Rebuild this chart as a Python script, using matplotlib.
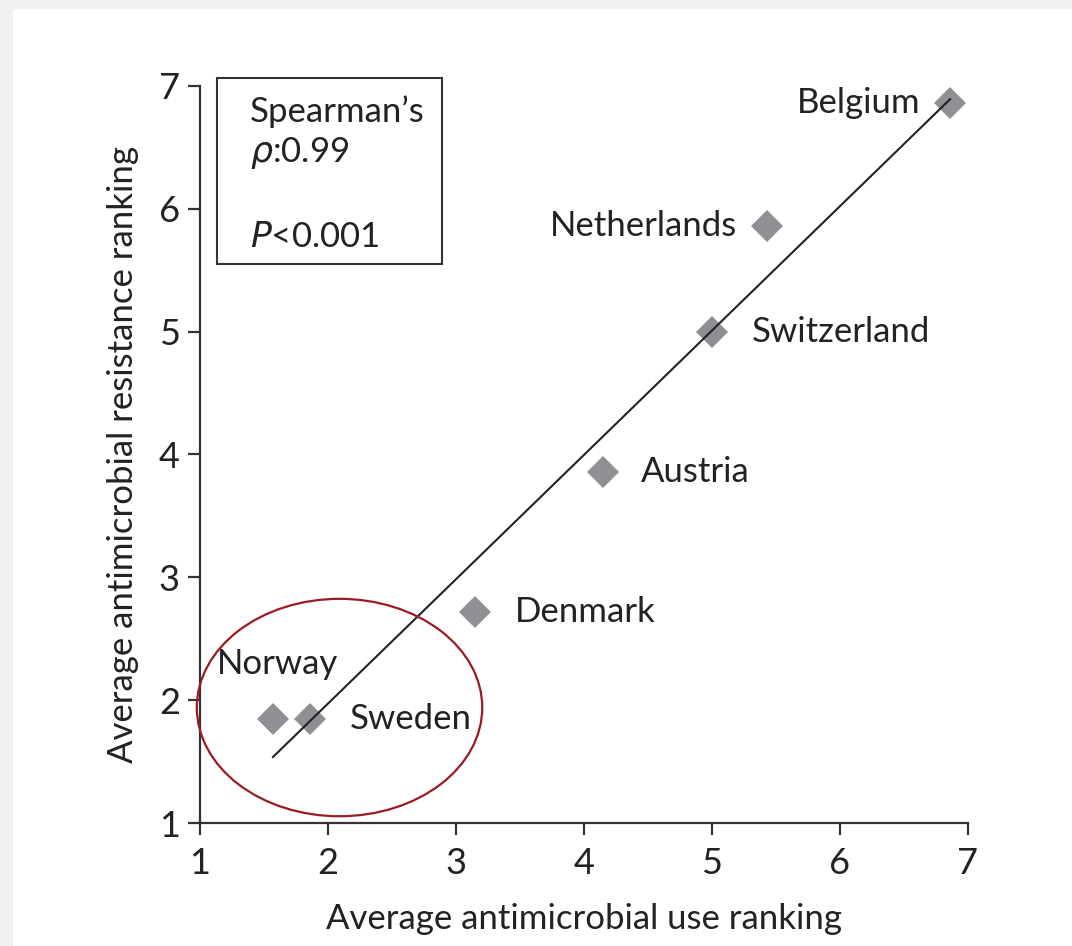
import numpy as np
import matplotlib
matplotlib.use("Agg")
import matplotlib.pyplot as plt
from matplotlib.patches import Ellipse, Rectangle

plt.rcParams['font.family'] = ['Lato', 'DejaVu Sans']

countries = ["Belgium", "Netherlands", "Switzerland", "Austria", "Denmark", "Norway", "Sweden"]
use_rank = [6.86, 5.43, 5.00, 4.15, 3.15, 1.57, 1.86]
res_rank = [6.86, 5.86, 5.00, 3.86, 2.72, 1.85, 1.85]
ticks = [1, 2, 3, 4, 5, 6, 7]

# label offsets (pixels) and alignment
label_style = {
    "Belgium": (-30, 0, "right", "center"),
    "Netherlands": (-30, 0, "right", "center"),
    "Switzerland": (40, 0, "left", "center"),
    "Austria": (38, 0, "left", "center"),
    "Denmark": (40, 0, "left", "center"),
    "Norway": (5, 55, "center", "center"),
    "Sweden": (40, 0, "left", "center"),
}

FS = 25
W, H = 1072, 946
fig = plt.figure(figsize=(W / 100, H / 100), dpi=100)
fig.patch.set_facecolor("#f1f1f1")
fig.add_artist(Rectangle((13 / W, 0), 1, 1 - 9 / H, transform=fig.transFigure,
                         facecolor="white", edgecolor="none", zorder=0))

ax = fig.add_axes([200 / W, 1 - 823 / H, 768 / W, 737 / H])
ax.set_facecolor("none")
ax.set_xlim(1, 7)
ax.set_ylim(1, 7)
ax.set_xticks(ticks)
ax.set_yticks(ticks)
for s in ["top", "right"]:
    ax.spines[s].set_visible(False)
for s in ["left", "bottom"]:
    ax.spines[s].set_linewidth(1.6)
    ax.spines[s].set_color("#333333")
ax.tick_params(direction="out", length=8.5, width=1.6, color="#333333",
               labelsize=26, labelcolor="#222222")
ax.tick_params(axis="x", pad=9)
ax.tick_params(axis="y", pad=6)

# regression line
x = np.array(use_rank)
y = np.array(res_rank)
slope, intercept = np.polyfit(x, y, 1)
xl = np.array([x.min(), x.max()])
ax.plot(xl, slope * xl + intercept, color="#222222", lw=1.5, zorder=3, clip_on=False)

ax.plot(use_rank, res_rank, linestyle="none", marker="D", markersize=16,
        color="#909094", markeredgewidth=0, zorder=2, clip_on=False)

for c, xv, yv in zip(countries, use_rank, res_rank):
    dx, dy, ha, va = label_style[c]
    ax.annotate(c, (xv, yv), xytext=(dx * 0.72, dy * 0.72), textcoords="offset points",
                ha=ha, va=va, fontsize=FS, color="#222222")

ax.add_patch(Ellipse((2.09, 1.94), 2.23, 1.77, facecolor="none",
                     edgecolor="#9b1b22", lw=1.6, zorder=4, clip_on=False))

ax.set_xlabel("Average antimicrobial use ranking", fontsize=FS, color="#222222", labelpad=16)
ax.set_ylabel("Average antimicrobial resistance ranking", fontsize=FS, color="#222222", labelpad=14)

# stats box
fig.add_artist(Rectangle((217 / W, 1 - 264 / H), 225 / W, 186 / H, transform=fig.transFigure,
                         facecolor="white", edgecolor="#333333", lw=1.5, zorder=5))
fig.text(250 / W, 1 - 112 / H, "Spearman\u2019s", fontsize=FS, color="#222222", va="center", ha="left", zorder=6)
fig.text(250 / W, 1 - 153 / H, r"$\it{\rho}$:0.99", fontsize=FS, color="#222222", va="center", ha="left", zorder=6)
fig.text(250 / W, 1 - 237 / H, r"$\it{P}$<0.001", fontsize=FS, color="#222222", va="center", ha="left", zorder=6)

fig.savefig("out.png", dpi=100)
